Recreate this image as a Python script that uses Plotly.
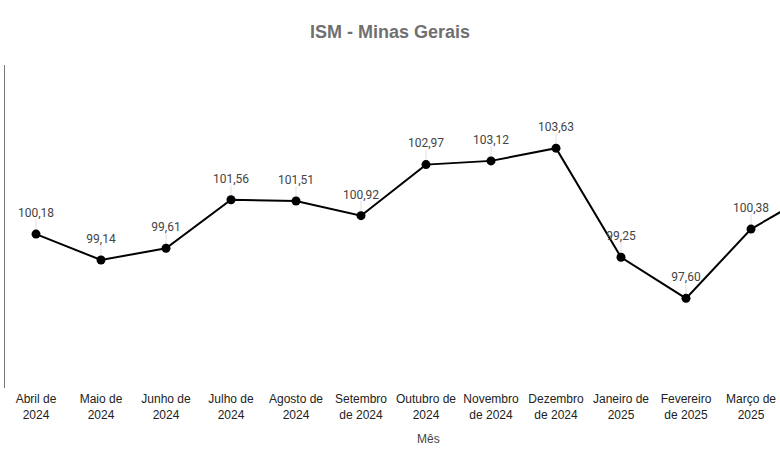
import plotly.graph_objects as go

categories = ["Abril de<br>2024", "Maio de<br>2024", "Junho de<br>2024", "Julho de<br>2024",
              "Agosto de<br>2024", "Setembro<br>de 2024", "Outubro de<br>2024", "Novembro<br>de 2024",
              "Dezembro<br>de 2024", "Janeiro de<br>2025", "Fevereiro<br>de 2025", "Março de<br>2025",
              "Abril de<br>2025"]
values = [100.18, 99.14, 99.61, 101.56, 101.51, 100.92, 102.97, 103.12, 103.63, 99.25, 97.60, 100.38, 101.90]
n_visible_labels = 12  # the last point lies beyond the visible frame in the reference

labels = [f"{v:.2f}".replace(".", ",") if i < n_visible_labels else "" for i, v in enumerate(values)]
x_idx = list(range(len(values)))

fig = go.Figure()
fig.add_trace(go.Scatter(
    x=x_idx, y=values,
    mode="lines+markers",
    line=dict(color="#000000", width=2),
    marker=dict(color="#000000", size=9),
    error_y=dict(type="data", symmetric=False, array=[0.6] * len(values),
                 arrayminus=[0] * len(values), color="#e0e0e0", thickness=1, width=0),
    cliponaxis=True,
    hoverinfo="skip",
))
fig.add_trace(go.Scatter(
    x=x_idx, y=values,
    mode="markers+text",
    marker=dict(color="rgba(0,0,0,0)", size=21),
    text=labels,
    textposition="top center",
    textfont=dict(family="Roboto", size=12, color="#444444"),
    cliponaxis=True,
    hoverinfo="skip",
))

fig.update_layout(
    width=780, height=470,
    margin=dict(l=5, r=0, t=65, b=82),
    paper_bgcolor="white", plot_bgcolor="white",
    showlegend=False,
    title=dict(text="<b>ISM - Minas Gerais</b>", x=0.5, xanchor="center", y=1 - 32 / 470, yanchor="middle",
               font=dict(family="Liberation Sans", size=18, color="#707070")),
    xaxis=dict(
        range=[-0.477, 11.446],
        tickmode="array", tickvals=x_idx, ticktext=categories,
        showgrid=False, zeroline=False, showline=False, ticks="",
        tickfont=dict(family="Liberation Sans", size=12, color="#222222"),
        ticklabelstandoff=2,
    ),
    yaxis=dict(
        range=[94.0, 106.97],
        showgrid=False, zeroline=False, showticklabels=False, ticks="",
        showline=True, linecolor="#777777", linewidth=1,
    ),
    annotations=[dict(text="Mês", xref="paper", yref="paper", x=(428 - 5) / 775, y=-(439 - 388) / 323,
                      xanchor="center", yanchor="middle", showarrow=False,
                      font=dict(family="Liberation Sans", size=12, color="#444444"))],
)

fig.write_html("out.html", config={"displayModeBar": False},
               post_script="document.body.style.margin='0px';document.body.style.overflow='hidden';")
